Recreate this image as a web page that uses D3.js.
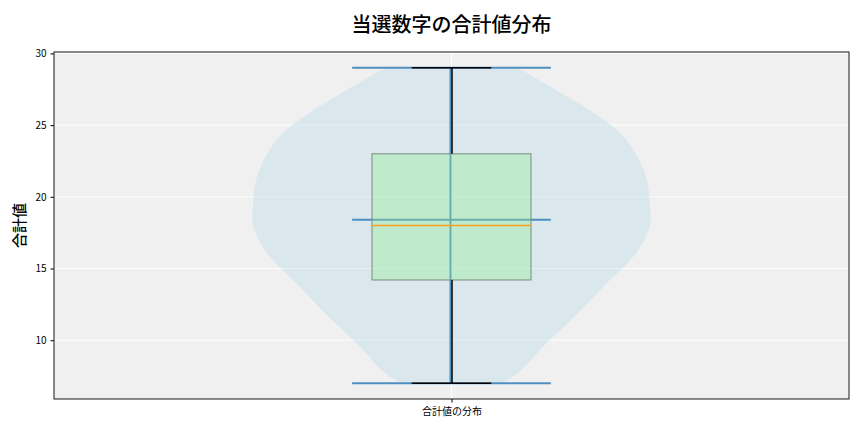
<!DOCTYPE html>
<html>
<head>
<meta charset="utf-8">
<script src="https://cdn.jsdelivr.net/npm/d3@7"></script>
<style>
  body { margin: 0; background: #fff; }
  svg { font-family: "Noto Sans CJK JP", "Noto Sans", sans-serif; }
</style>
</head>
<body>
<svg id="chart" width="864" height="432"></svg>
<script>
// box plot summary
const boxStats = { min: 7, q1: 14.2, median: 18, q3: 23, max: 29 };
const violinMean = 18.4;
// violin outline: sum value -> relative half width
const densityValues = [7.0, 7.2, 7.9, 9.55, 11.8, 14.1, 15.3, 16.5, 18.1, 19.0, 21.35, 23.6, 24.8, 25.9, 28.3, 28.85, 29.0];
const densityWidths = [0.25, 0.28, 0.35, 0.46, 0.63, 0.79, 0.88, 0.95, 1.0, 1.0, 0.98, 0.9, 0.82, 0.71, 0.42, 0.35, 0.3];
const yTicks = [10, 15, 20, 25, 30];
const category = "合計値の分布";

const width = 864, height = 432;
const margin = { top: 52, right: 15, bottom: 33, left: 54 };

const svg = d3.select("#chart");

const x = d3.scaleLinear().domain([0.5, 1.5]).range([margin.left, width - margin.right]);
const y = d3.scaleLinear().domain([5.9, 30.1]).range([height - margin.bottom, margin.top]);

// background
svg.append("rect")
  .attr("x", margin.left).attr("y", margin.top)
  .attr("width", width - margin.left - margin.right)
  .attr("height", height - margin.top - margin.bottom)
  .attr("fill", "#f0f0f0");

// grid
svg.append("g").selectAll("line").data(yTicks).enter().append("line")
  .attr("x1", margin.left).attr("x2", width - margin.right)
  .attr("y1", (d) => y(d)).attr("y2", (d) => y(d))
  .attr("stroke", "#fff").attr("stroke-width", 1);
svg.append("line")
  .attr("x1", x(1)).attr("x2", x(1))
  .attr("y1", margin.top).attr("y2", height - margin.bottom)
  .attr("stroke", "#fff").attr("stroke-width", 1);

// violin body
const halfW = x(1.25) - x(1); // max half width = 0.25 data units
const pts = densityValues.map((v, i) => [v, densityWidths[i]]);
const area = d3.area()
  .y((d) => y(d[0]))
  .x0((d) => x(1) - d[1] * halfW)
  .x1((d) => x(1) + d[1] * halfW)
  .curve(d3.curveCatmullRom);
svg.append("path").datum(pts)
  .attr("d", area)
  .attr("fill", "#add8e6").attr("fill-opacity", 0.33);

// violin lines
const vColor = "#4f8fbf";
const capHalf = x(1.125) - x(1);
svg.append("line")
  .attr("x1", x(1) - 1).attr("x2", x(1) - 1)
  .attr("y1", y(boxStats.min)).attr("y2", y(boxStats.max))
  .attr("stroke", vColor).attr("stroke-width", 2);
[boxStats.min, boxStats.max, violinMean].forEach((v) => {
  svg.append("line")
    .attr("x1", x(1) - capHalf).attr("x2", x(1) + capHalf)
    .attr("y1", y(v)).attr("y2", y(v))
    .attr("stroke", vColor).attr("stroke-width", 2);
});

// box plot
const boxHalf = x(1.1) - x(1);
svg.append("rect")
  .attr("x", x(1) - boxHalf).attr("width", 2 * boxHalf)
  .attr("y", y(boxStats.q3)).attr("height", y(boxStats.q1) - y(boxStats.q3))
  .attr("fill", "#90ee90").attr("fill-opacity", 0.35)
  .attr("stroke", "#7a8a7e").attr("stroke-width", 1);
svg.append("line")
  .attr("x1", x(1) - boxHalf).attr("x2", x(1) + boxHalf)
  .attr("y1", y(boxStats.median)).attr("y2", y(boxStats.median))
  .attr("stroke", "#f5a020").attr("stroke-width", 1.5);

// whiskers and caps
const whiskerCap = x(1.05) - x(1);
[[boxStats.q3, boxStats.max], [boxStats.q1, boxStats.min]].forEach(([a, b]) => {
  svg.append("line")
    .attr("x1", x(1) + 0.5).attr("x2", x(1) + 0.5)
    .attr("y1", y(a)).attr("y2", y(b))
    .attr("stroke", "#000").attr("stroke-width", 1.5);
  svg.append("line")
    .attr("x1", x(1) - whiskerCap).attr("x2", x(1) + whiskerCap)
    .attr("y1", y(b)).attr("y2", y(b))
    .attr("stroke", "#000").attr("stroke-width", 1.5);
});

// axes
const yAxis = svg.append("g")
  .attr("transform", `translate(${margin.left},0)`)
  .call(d3.axisLeft(y).tickValues(yTicks).tickSize(3.5).tickSizeOuter(0));
const xAxis = svg.append("g")
  .attr("transform", `translate(0,${height - margin.bottom})`)
  .call(d3.axisBottom(x).tickValues([1]).tickFormat(() => category).tickSize(3.5).tickSizeOuter(0));
[yAxis, xAxis].forEach((g) => {
  g.select(".domain").remove();
  g.selectAll("text").attr("font-size", 10).attr("fill", "#000")
    .attr("font-family", "'Noto Sans CJK JP', sans-serif");
  g.selectAll(".tick line").attr("stroke", "#000");
});
yAxis.selectAll("text").attr("dx", "-0.1em");
xAxis.selectAll("text").attr("dy", "0.9em");

// frame
svg.append("rect")
  .attr("x", margin.left).attr("y", margin.top)
  .attr("width", width - margin.left - margin.right)
  .attr("height", height - margin.top - margin.bottom)
  .attr("fill", "none").attr("stroke", "#000").attr("stroke-width", 0.9);

// title and label
svg.append("text")
  .attr("x", (margin.left + width - margin.right) / 2).attr("y", 32)
  .attr("text-anchor", "middle").attr("font-size", 20).attr("font-weight", 500)
  .text("当選数字の合計値分布");
svg.append("text")
  .attr("transform", `translate(25,${(margin.top + height - margin.bottom) / 2}) rotate(-90)`)
  .attr("text-anchor", "middle").attr("font-size", 15).attr("font-weight", 500)
  .text("合計値");
</script>
</body>
</html>
